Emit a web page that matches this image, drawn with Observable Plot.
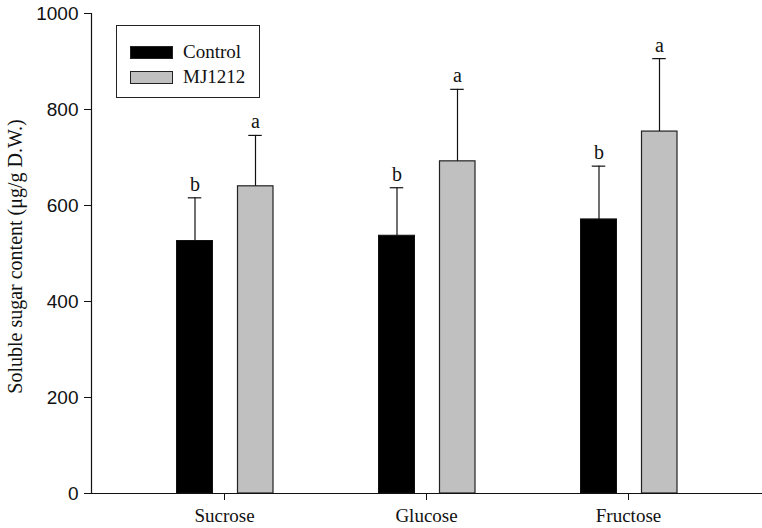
<!DOCTYPE html>
<html>
<head>
<meta charset="utf-8">
<script src="https://cdn.jsdelivr.net/npm/d3@7"></script>
<script src="https://cdn.jsdelivr.net/npm/@observablehq/plot@0.6"></script>
<style>
  html, body { margin: 0; padding: 0; background: #fff; }
  #wrap { position: relative; width: 762px; height: 528px; }
  #legend { position: absolute; left: 116px; top: 25px; width: 142px; height: 71px;
    border: 1px solid #222; background: #fff; font-family: "Liberation Serif", "Times New Roman", serif; font-size: 19px; color: #111; }
  .row { position: absolute; left: 13px; display: flex; align-items: center; }
  .sw { width: 43px; height: 13px; border: 1px solid #222; box-sizing: border-box; margin-right: 10px; }
</style>
</head>
<body>
<div id="wrap"></div>
<script>
const categories = ["Sucrose", "Glucose", "Fructose"];
const seriesNames = ["Control", "MJ1212"];
const controlMeans = [526, 537, 571];
const controlErrors = [90, 100, 111];
const mjMeans = [640, 692, 754];
const mjErrors = [106, 150, 152];
const controlLetters = ["b", "b", "b"];
const mjLetters = ["a", "a", "a"];
const yTicks = [0, 200, 400, 600, 800, 1000];
const yLabel = "Soluble sugar content (\u03bcg/g D.W.)";
const colors = {Control: "#000000", MJ1212: "#c0c0c0"};

const control = categories.map((c, i) => ({cat: c, series: "Control", value: controlMeans[i], upper: controlMeans[i] + controlErrors[i], letter: controlLetters[i]}));
const mj = categories.map((c, i) => ({cat: c, series: "MJ1212", value: mjMeans[i], upper: mjMeans[i] + mjErrors[i], letter: mjLetters[i]}));

const serif = "'Liberation Serif', 'Times New Roman', serif";
const sans = "'Liberation Sans', Arial, Helvetica, sans-serif";

const chart = Plot.plot({
  width: 762,
  height: 528,
  marginLeft: 91,
  marginRight: 0,
  marginTop: 13,
  marginBottom: 35,
  style: {fontFamily: serif, background: "#fff", color: "#111"},
  x: {domain: categories, range: [121.75, 729.25], padding: 0},
  y: {domain: [0, 1000], ticks: yTicks},
  marks: [
    Plot.barY(control, {x: "cat", y: "value", fill: colors.Control, stroke: "#111", strokeWidth: 1, insetLeft: 53.5, insetRight: 112.5}),
    Plot.barY(mj, {x: "cat", y: "value", fill: colors.MJ1212, stroke: "#222", strokeWidth: 1.2, insetLeft: 114.5, insetRight: 52}),
    Plot.ruleX(control, {x: "cat", y1: "value", y2: "upper", dx: -29.5, stroke: "#111", strokeWidth: 1.2}),
    Plot.ruleX(mj, {x: "cat", y1: "value", y2: "upper", dx: 31, stroke: "#111", strokeWidth: 1.2}),
    Plot.tickY(control, {y: "upper", x: "cat", insetLeft: 64.75, insetRight: 123.75, stroke: "#111", strokeWidth: 1.2}),
    Plot.tickY(mj, {y: "upper", x: "cat", insetLeft: 125.25, insetRight: 63.25, stroke: "#111", strokeWidth: 1.2}),
    Plot.text(control, {x: "cat", y: "upper", text: "letter", dx: -29.5, dy: -7, lineAnchor: "bottom", fontSize: 20, fontFamily: serif, fill: "#111"}),
    Plot.text(mj, {x: "cat", y: "upper", text: "letter", dx: 31, dy: -7, lineAnchor: "bottom", fontSize: 20, fontFamily: serif, fill: "#111"}),
    Plot.ruleY([0], {stroke: "#111", strokeWidth: 1.2}),
    Plot.frame({anchor: "left", stroke: "#111", strokeWidth: 1.2}),
    Plot.axisY({ticks: yTicks, tickFormat: d => String(d), tickSize: 7, tickPadding: 6, fontSize: 19, fontFamily: sans, label: null, stroke: "#111"}),
    Plot.axisX({tickSize: 7, tickPadding: 8, fontSize: 19, fontFamily: serif, label: null}),
    Plot.text([yLabel], {frameAnchor: "left", textAnchor: "middle", rotate: -90, dx: -76, dy: 3, lineAnchor: "middle", fontSize: 20, fontFamily: serif, fill: "#111"})
  ]
});

const wrap = document.getElementById("wrap");
wrap.appendChild(chart);

const legend = document.createElement("div");
legend.id = "legend";
seriesNames.forEach((name, i) => {
  const row = document.createElement("div");
  row.className = "row";
  row.style.top = (i === 0 ? 15 : 40) + "px";
  const sw = document.createElement("div");
  sw.className = "sw";
  sw.style.background = colors[name];
  const label = document.createElement("span");
  label.textContent = name;
  row.appendChild(sw);
  row.appendChild(label);
  legend.appendChild(row);
});
wrap.appendChild(legend);
</script>
</body>
</html>
